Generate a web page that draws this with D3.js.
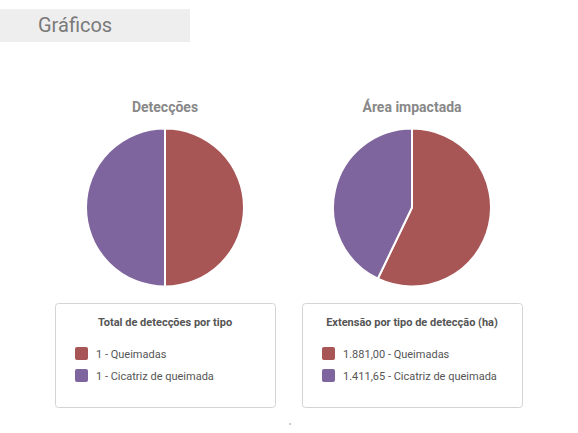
<!DOCTYPE html>
<html>
<head>
<meta charset="utf-8">
<script src="https://cdn.jsdelivr.net/npm/d3@7"></script>
<style>
  body { margin: 0; background: #fff; font-family: Roboto, "Open Sans", sans-serif; }
  svg { display: block; }
</style>
</head>
<body>
<div id="chart"></div>
<script>
// Data
const categories = ["Queimadas", "Cicatriz de queimada"];
const colors = ["#a85555", "#7f659d"];
const detectionCounts = [1, 1];
const detectionLabels = ["1", "1"];
const areaValues = [1881.00, 1411.65];
const areaLabels = ["1.881,00", "1.411,65"];

const panels = [
    {title: "Detecções", legendTitle: "Total de detecções por tipo", values: detectionCounts, labels: detectionLabels, cx: 165, boxX: 55},
    {title: "Área impactada", legendTitle: "Extensão por tipo de detecção (ha)", values: areaValues, labels: areaLabels, cx: 412, boxX: 302}
];

const width = 578, height = 433;
const svg = d3.select("#chart").append("svg")
    .attr("width", width)
    .attr("height", height);

// Header
svg.append("rect")
    .attr("x", 0).attr("y", 9)
    .attr("width", 190).attr("height", 33)
    .attr("fill", "#eeeeee");
svg.append("text")
    .attr("x", 38).attr("y", 32)
    .attr("font-size", 20)
    .attr("fill", "#7a7a7a")
    .text("Gráficos");

const radius = 79;
const cy = 207.5;
const pie = d3.pie().sort(null).startAngle(0).endAngle(2 * Math.PI);
const arc = d3.arc().innerRadius(0).outerRadius(radius);

panels.forEach(function(p) {
    // Title
    svg.append("text")
        .attr("x", p.cx).attr("y", 112)
        .attr("text-anchor", "middle")
        .attr("font-size", 14)
        .attr("font-weight", "bold")
        .attr("fill", "#888")
        .text(p.title);

    // Pie
    const g = svg.append("g")
        .attr("transform", "translate(" + p.cx + "," + cy + ")");
    g.selectAll("path")
        .data(pie(p.values))
        .enter().append("path")
        .attr("d", arc)
        .attr("fill", (d, i) => colors[i])
        .attr("stroke", "#fff")
        .attr("stroke-width", 2);

    // Legend box
    const lg = svg.append("g")
        .attr("transform", "translate(" + p.boxX + ",303)");
    lg.append("rect")
        .attr("x", 0.5).attr("y", 0.5)
        .attr("width", 220).attr("height", 104)
        .attr("rx", 3)
        .attr("fill", "#fff")
        .attr("stroke", "#d4d4d4");
    lg.append("text")
        .attr("x", 110).attr("y", 23)
        .attr("text-anchor", "middle")
        .attr("font-size", 11)
        .attr("font-weight", "bold")
        .attr("fill", "#555")
        .text(p.legendTitle);

    categories.forEach(function(c, i) {
        lg.append("rect")
            .attr("x", 20).attr("y", 44 + i * 22)
            .attr("width", 13).attr("height", 13)
            .attr("rx", 2)
            .attr("fill", colors[i]);
        lg.append("text")
            .attr("x", 41).attr("y", 55 + i * 22)
            .attr("font-size", 11)
            .attr("fill", "#555")
            .text(p.labels[i] + " - " + c);
    });
});

// tiny marker at bottom
svg.append("rect")
    .attr("x", 289).attr("y", 423)
    .attr("width", 2).attr("height", 2)
    .attr("fill", "#ccc");
</script>
</body>
</html>
